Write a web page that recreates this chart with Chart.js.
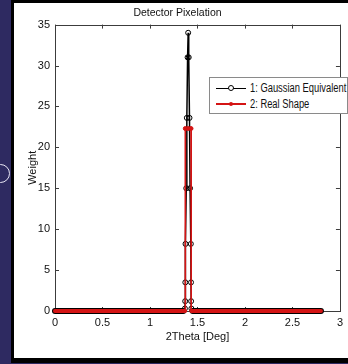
<!DOCTYPE html>
<html>
<head>
<meta charset="utf-8">
<script src="https://cdn.jsdelivr.net/npm/chart.js@4.4.1/dist/chart.umd.min.js"></script>
<style>
  html, body { margin: 0; padding: 0; }
  body { width: 348px; height: 364px; background: #2e2a61; position: relative; overflow: hidden; }
  #frame { position: absolute; left: 11px; top: 0; width: 337px; height: 363px; background: #000; }
  #paper { position: absolute; left: 14px; top: 3px; width: 334px; height: 355px; background: #fff; }
  #paper canvas { position: absolute; left: 0; top: 0; }
  #icon { position: absolute; left: -9px; top: 164px; width: 17px; height: 17px; border: 1.5px solid #e8e6f4; border-radius: 50%; }
  #legend {
    position: absolute; left: 209px; top: 77px; width: 137px; height: 35px;
    border: 1px solid #8a8a8a; background: #fff;
    font-family: "Liberation Sans", Arial, sans-serif; font-size: 12px; color: #111;
  }
  .row { position: absolute; left: 0; width: 137px; height: 14px; line-height: 14px; white-space: nowrap; }
  .row .line { position: absolute; left: 6px; top: 7px; width: 30px; height: 0; }
  .row .mk { position: absolute; left: 19px; top: 5px; width: 4px; height: 4px; border-radius: 50%; }
  .row .txt { position: absolute; left: 40px; top: 0; transform: scaleX(0.78); transform-origin: 0 50%; }
</style>
</head>
<body>
<div id="icon"></div>
<div id="frame"></div>
<div id="paper">
  <canvas id="chart" width="334" height="355"></canvas>
</div>
<div id="legend"></div>
<script>
'use strict';

/* ── Data ──────────────────────────────────────────────────── */
const chartTitle = 'Detector Pixelation';
const xLabel = '2Theta [Deg]';
const yLabel = 'Weight';
const seriesNames = ['1: Gaussian Equivalent', '2: Real Shape'];

const xTicks = [0, 0.5, 1, 1.5, 2, 2.5, 3];
const yTicks = [0, 5, 10, 15, 20, 25, 30, 35];

// 1: Gaussian Equivalent
const gaussTheta = [
    0.00, 0.05, 0.10, 0.15, 0.20, 0.25, 0.30, 0.35, 0.40, 0.45, 0.50, 0.55, 0.60, 0.65,
    0.70, 0.75, 0.80, 0.85, 0.90, 0.95, 1.00, 1.05, 1.10, 1.15, 1.20, 1.25, 1.30, 1.35,
    1.368, 1.371, 1.372, 1.374, 1.382, 1.388, 1.396, 1.402, 1.408, 1.416, 1.422, 1.430, 1.432, 1.433, 1.436,
    1.45, 1.50, 1.55, 1.60, 1.65, 1.70, 1.75, 1.80, 1.85, 1.90, 1.95, 2.00, 2.05, 2.10,
    2.15, 2.20, 2.25, 2.30, 2.35, 2.40, 2.45, 2.50, 2.55, 2.60, 2.65, 2.70, 2.75, 2.80
];
const gaussWeight = [
    0, 0, 0, 0, 0, 0, 0, 0, 0, 0, 0, 0, 0, 0,
    0, 0, 0, 0, 0, 0, 0, 0, 0, 0, 0, 0, 0, 0,
    0.3, 1.2, 3.5, 8.2, 15, 23.6, 31, 34, 31, 23.6, 15, 8.2, 3.5, 1.2, 0.3,
    0, 0, 0, 0, 0, 0, 0, 0, 0, 0, 0, 0, 0, 0,
    0, 0, 0, 0, 0, 0, 0, 0, 0, 0, 0, 0, 0, 0
];

// 2: Real Shape
const shapeTheta = [
    0.00, 0.05, 0.10, 0.15, 0.20, 0.25, 0.30, 0.35, 0.40, 0.45, 0.50, 0.55, 0.60, 0.65,
    0.70, 0.75, 0.80, 0.85, 0.90, 0.95, 1.00, 1.05, 1.10, 1.15, 1.20, 1.25, 1.30, 1.35,
    1.370, 1.372, 1.402, 1.432, 1.434,
    1.45, 1.50, 1.55, 1.60, 1.65, 1.70, 1.75, 1.80, 1.85, 1.90, 1.95, 2.00, 2.05, 2.10,
    2.15, 2.20, 2.25, 2.30, 2.35, 2.40, 2.45, 2.50, 2.55, 2.60, 2.65, 2.70, 2.75, 2.80
];
const shapeWeight = [
    0, 0, 0, 0, 0, 0, 0, 0, 0, 0, 0, 0, 0, 0,
    0, 0, 0, 0, 0, 0, 0, 0, 0, 0, 0, 0, 0, 0,
    0, 22.3, 22.3, 22.3, 0,
    0, 0, 0, 0, 0, 0, 0, 0, 0, 0, 0, 0, 0, 0,
    0, 0, 0, 0, 0, 0, 0, 0, 0, 0, 0, 0, 0, 0
];

/* ── Style ─────────────────────────────────────────────────── */
const FONT = '"Liberation Sans", Arial, sans-serif';
const AXIS = '#3c3c3c';
// dense markers in the original merge into a solid band along zero
const SERIES = [
    { color: '#000000', marker: 'transparent', radius: 2.5, width: 1.5, band: 6 },
    { color: '#d41414', marker: '#d41414', radius: 2, width: 1.6, band: 4 }
];

const toPoints = (xs, ys) => xs.map((x, i) => ({ x, y: ys[i] }));
const onZero = ctx => ctx.p0.parsed.y === 0 && ctx.p1.parsed.y === 0;

/* ── MATLAB-style box with inward ticks ────────────────────── */
const boxAxes = {
    id: 'boxAxes',
    beforeDatasetsDraw(chart) {
        const { ctx, chartArea: a, scales: { x, y } } = chart;
        const len = 4;
        ctx.save();
        ctx.strokeStyle = AXIS;
        ctx.lineWidth = 1;
        ctx.beginPath();
        xTicks.forEach(v => {
            const px = Math.round(x.getPixelForValue(v)) + 0.5;
            ctx.moveTo(px, a.bottom); ctx.lineTo(px, a.bottom - len);
            ctx.moveTo(px, a.top); ctx.lineTo(px, a.top + len);
        });
        yTicks.forEach(v => {
            const py = Math.round(y.getPixelForValue(v)) + 0.5;
            ctx.moveTo(a.left, py); ctx.lineTo(a.left + len, py);
            ctx.moveTo(a.right, py); ctx.lineTo(a.right - len, py);
        });
        ctx.stroke();
        ctx.strokeRect(Math.round(a.left) + 0.5, Math.round(a.top) + 0.5,
            Math.round(a.right - a.left), Math.round(a.bottom - a.top));
        ctx.restore();
    }
};

const datasets = [
    { label: seriesNames[0], data: toPoints(gaussTheta, gaussWeight), order: 2 },
    { label: seriesNames[1], data: toPoints(shapeTheta, shapeWeight), order: 1 }
].map((d, i) => Object.assign(d, {
    borderColor: SERIES[i].color,
    backgroundColor: SERIES[i].color,
    borderWidth: SERIES[i].width,
    borderCapStyle: 'round',
    segment: { borderWidth: ctx => onZero(ctx) ? SERIES[i].band : SERIES[i].width },
    pointRadius: ctx => (ctx.raw && ctx.raw.y === 0 ? 0 : SERIES[i].radius),
    pointBorderWidth: 1,
    pointBorderColor: SERIES[i].color,
    pointBackgroundColor: SERIES[i].marker,
    tension: 0,
    fill: false,
    clip: false
}));

new Chart(document.getElementById('chart'), {
    type: 'line',
    data: { datasets },
    options: {
        responsive: false,
        animation: false,
        events: [],
        layout: { padding: { left: 0, right: 7, top: 0, bottom: 0 } },
        scales: {
            x: {
                type: 'linear', min: 0, max: 3,
                afterBuildTicks: s => { s.ticks = xTicks.map(v => ({ value: v })); },
                afterFit: s => { s.height = 47; },
                ticks: { color: '#111', padding: 5, maxRotation: 0, font: { family: FONT, size: 11 }, callback: v => String(v) },
                grid: { display: false, drawTicks: false },
                border: { display: false },
                title: { display: true, text: xLabel, color: '#111', font: { family: FONT, size: 11 }, padding: { top: 0, bottom: 14 } }
            },
            y: {
                type: 'linear', min: 0, max: 35,
                afterBuildTicks: s => { s.ticks = yTicks.map(v => ({ value: v })); },
                afterFit: s => { s.width = 41; },
                ticks: { color: '#111', padding: 5, font: { family: FONT, size: 11 }, callback: v => String(v) },
                grid: { display: false, drawTicks: false },
                border: { display: false },
                title: { display: true, text: yLabel, color: '#111', font: { family: FONT, size: 11 }, padding: { top: 12, bottom: 0 } }
            }
        },
        plugins: {
            legend: { display: false },
            tooltip: { enabled: false },
            title: {
                display: true, text: chartTitle, color: '#111',
                font: { family: FONT, size: 10.5, weight: 'normal' },
                padding: { top: 4, bottom: 5 }
            }
        }
    },
    plugins: [boxAxes]
});

/* ── Legend (HTML) ─────────────────────────────────────────── */
const legend = document.getElementById('legend');
seriesNames.forEach((name, i) => {
    const s = SERIES[i];
    const row = document.createElement('div');
    row.className = 'row';
    row.style.top = (3 + i * 16) + 'px';
    const mkStyle = i === 0
        ? `border:1px solid ${s.color};background:#fff;left:18px;top:4px;`
        : `background:${s.color};`;
    row.innerHTML =
        `<div class="line" style="border-top:${i === 1 ? 2 : 1}px solid ${s.color};top:${i === 1 ? 6 : 7}px;"></div>` +
        `<div class="mk" style="${mkStyle}"></div>` +
        `<div class="txt">${name}</div>`;
    legend.appendChild(row);
});
</script>
</body>
</html>
